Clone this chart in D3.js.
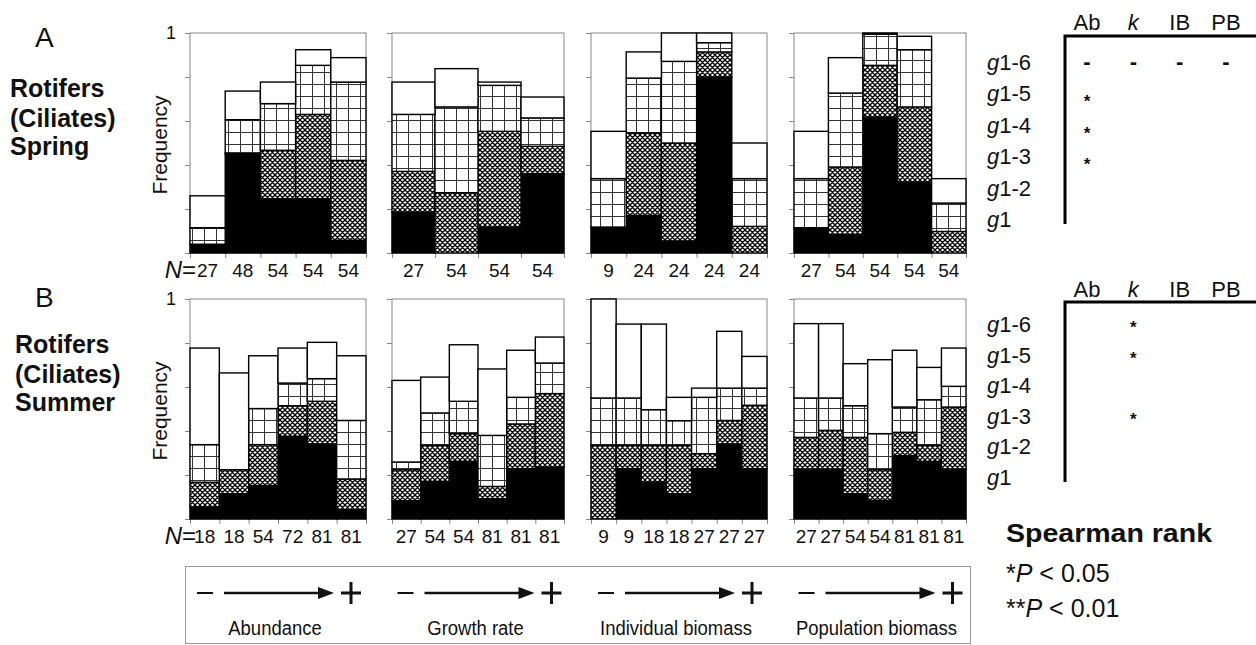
<!DOCTYPE html>
<html>
<head>
<meta charset="utf-8">
<script src="https://cdn.jsdelivr.net/npm/d3@7"></script>
<style>
  body { margin: 0; background: #fff; }
  text { font-family: "Liberation Sans", Arial, sans-serif; fill: #111; }
</style>
</head>
<body>
<script>
const width = 1256
const height = 645

// frequency of each class in a bar, bottom to top: black, cross-hatch, grid, open
const layerFill = ["#000", "url(#hatch)", "url(#grid)", "#fff"]

// A: spring
const springAbN = [27, 48, 54, 54, 54]
const springAb = [
  [0.040, 0.000, 0.075, 0.145],
  [0.448, 0.007, 0.151, 0.130],
  [0.247, 0.220, 0.212, 0.098],
  [0.247, 0.383, 0.223, 0.071],
  [0.058, 0.363, 0.356, 0.111],
]
const springKN = [27, 54, 54, 54]
const springK = [
  [0.186, 0.185, 0.259, 0.147],
  [0.000, 0.274, 0.390, 0.174],
  [0.118, 0.435, 0.209, 0.015],
  [0.361, 0.124, 0.129, 0.095],
]
const springIbN = [9, 24, 24, 24, 24]
const springIb = [
  [0.118, 0.000, 0.220, 0.215],
  [0.171, 0.374, 0.250, 0.119],
  [0.055, 0.445, 0.371, 0.129],
  [0.800, 0.114, 0.042, 0.044],
  [0.000, 0.121, 0.217, 0.162],
]
const springPbN = [27, 54, 54, 54, 54]
const springPb = [
  [0.115, 0.000, 0.223, 0.215],
  [0.083, 0.308, 0.336, 0.161],
  [0.618, 0.235, 0.142, 0.005],
  [0.323, 0.341, 0.260, 0.061],
  [0.000, 0.098, 0.129, 0.111],
]

// B: summer
const summerAbN = [18, 18, 54, 72, 81, 81]
const summerAb = [
  [0.055, 0.112, 0.171, 0.439],
  [0.115, 0.109, 0.000, 0.440],
  [0.152, 0.186, 0.164, 0.240],
  [0.376, 0.139, 0.103, 0.159],
  [0.341, 0.194, 0.103, 0.165],
  [0.042, 0.140, 0.266, 0.294],
]
const summerKN = [27, 54, 54, 81, 81, 81]
const summerK = [
  [0.083, 0.141, 0.035, 0.371],
  [0.171, 0.164, 0.147, 0.163],
  [0.262, 0.126, 0.147, 0.257],
  [0.092, 0.056, 0.232, 0.302],
  [0.229, 0.203, 0.121, 0.214],
  [0.236, 0.334, 0.139, 0.118],
]
const summerIbN = [9, 9, 18, 18, 27, 27, 27]
const summerIb = [
  [0.000, 0.335, 0.215, 0.450],
  [0.229, 0.106, 0.215, 0.336],
  [0.168, 0.167, 0.162, 0.389],
  [0.115, 0.220, 0.112, 0.106],
  [0.229, 0.068, 0.256, 0.042],
  [0.341, 0.107, 0.147, 0.258],
  [0.229, 0.288, 0.078, 0.144],
]
const summerPbN = [27, 27, 54, 54, 81, 81, 81]
const summerPb = [
  [0.227, 0.144, 0.179, 0.338],
  [0.227, 0.176, 0.147, 0.338],
  [0.115, 0.256, 0.144, 0.191],
  [0.085, 0.139, 0.164, 0.336],
  [0.288, 0.106, 0.115, 0.258],
  [0.262, 0.073, 0.207, 0.147],
  [0.227, 0.282, 0.094, 0.174],
]

const yTicks = [0, 0.2, 0.4, 0.6, 0.8, 1]

// Spearman rank table
const tableCols = ["Ab", "k", "IB", "PB"]
const tableRows = ["g1-6", "g1-5", "g1-4", "g1-3", "g1-2", "g1"]
const springMarks = [
  ["g1-6", "Ab", "-"], ["g1-6", "k", "-"], ["g1-6", "IB", "-"], ["g1-6", "PB", "-"],
  ["g1-5", "Ab", "*"], ["g1-4", "Ab", "*"], ["g1-3", "Ab", "*"],
]
const summerMarks = [["g1-6", "k", "*"], ["g1-5", "k", "*"], ["g1-3", "k", "*"]]

const legendLabels = ["Abundance", "Growth rate", "Individual biomass", "Population biomass"]

const rowTitles = [
  ["A", "Rotifers", "(Ciliates)", "Spring"],
  ["B", "Rotifers", "(Ciliates)", "Summer"],
]

const panels = [
  { row: 0, col: 0, n: springAbN, v: springAb },
  { row: 0, col: 1, n: springKN, v: springK },
  { row: 0, col: 2, n: springIbN, v: springIb },
  { row: 0, col: 3, n: springPbN, v: springPb },
  { row: 1, col: 0, n: summerAbN, v: summerAb },
  { row: 1, col: 1, n: summerKN, v: summerK },
  { row: 1, col: 2, n: summerIbN, v: summerIb },
  { row: 1, col: 3, n: summerPbN, v: summerPb },
]

// layout
const rowTop = [33, 299]
const panelH = 220
const colX = [190, 392, 591, 794]
const colW = [176, 172, 176, 172]

const svg = d3.select("body").append("svg")
  .attr("width", width)
  .attr("height", height)

const defs = svg.append("defs")
const hatch = defs.append("pattern")
  .attr("id", "hatch")
  .attr("patternUnits", "userSpaceOnUse")
  .attr("width", 5)
  .attr("height", 5)
hatch.append("rect").attr("width", 5).attr("height", 5).attr("fill", "#fff")
hatch.append("path")
  .attr("d", "M-1,-1L6,6M6,-1L-1,6M-1,4L1,6M4,-1L6,1M4,6L6,4M-1,1L1,-1")
  .attr("stroke", "#000")
  .attr("stroke-width", 1.3)

const grid = defs.append("pattern")
  .attr("id", "grid")
  .attr("patternUnits", "userSpaceOnUse")
  .attr("width", 12)
  .attr("height", 12)
grid.append("rect").attr("width", 12).attr("height", 12).attr("fill", "#fff")
grid.append("path")
  .attr("d", "M0,0.5H12M0.5,0V12")
  .attr("stroke", "#333")
  .attr("stroke-width", 1)

function greyAxis(g) {
  g.select(".domain").remove()
  g.selectAll(".tick line").attr("stroke", "#888")
}

panels.forEach((p) => {
  const x0 = colX[p.col]
  const w = colW[p.col]
  const top = rowTop[p.row]
  const bottom = top + panelH

  const y = d3.scaleLinear().domain([0, 1]).range([bottom, top])
  const x = d3.scaleBand().domain(d3.range(p.n.length)).range([x0, x0 + w])
  const xEdge = d3.scaleLinear().domain([0, p.n.length]).range([x0, x0 + w])

  const g = svg.append("g")

  g.append("rect")
    .attr("x", x0)
    .attr("y", top)
    .attr("width", w)
    .attr("height", panelH)
    .attr("fill", "none")
    .attr("stroke", "#888")
    .attr("stroke-width", 1)

  g.append("g")
    .attr("transform", `translate(${x0},0)`)
    .call(d3.axisLeft(y).tickValues(yTicks).tickSize(5).tickSizeOuter(0).tickFormat(""))
    .call(greyAxis)

  g.append("g")
    .attr("transform", `translate(0,${bottom})`)
    .call(d3.axisBottom(xEdge).tickValues(d3.range(p.n.length + 1)).tickSize(5).tickSizeOuter(0).tickFormat(""))
    .call(greyAxis)

  const series = d3.stack().keys([0, 1, 2, 3])(p.v)

  g.selectAll(".layer")
    .data(series)
    .enter()
    .append("g")
    .attr("class", "layer")
    .attr("fill", (d, i) => layerFill[i])
    .selectAll("rect")
    .data((d) => d.map((s, j) => ({ j, y0: s[0], y1: s[1] })).filter((s) => s.y1 - s.y0 > 0.0005))
    .enter()
    .append("rect")
    .attr("x", (d) => x(d.j))
    .attr("y", (d) => y(d.y1))
    .attr("width", x.bandwidth())
    .attr("height", (d) => y(d.y0) - y(d.y1))
    .attr("stroke", "#000")
    .attr("stroke-width", 1.4)

  g.selectAll(".nlab")
    .data(p.n)
    .enter()
    .append("text")
    .attr("class", "nlab")
    .attr("x", (d, j) => x(j) + x.bandwidth() / 2)
    .attr("y", bottom + 24)
    .attr("text-anchor", "middle")
    .attr("font-size", 19)
    .text((d) => d)

  if (p.col === 0) {
    g.append("text")
      .attr("x", x0 - 14)
      .attr("y", top + 6)
      .attr("text-anchor", "end")
      .attr("font-size", 18)
      .text("1")

    g.append("text")
      .attr("transform", `translate(${x0 - 23},${(top + bottom) / 2 + 2}) rotate(-90)`)
      .attr("text-anchor", "middle")
      .attr("font-size", 21)
      .text("Frequency")

    const nEq = g.append("text")
      .attr("x", x0 + 6)
      .attr("y", bottom + 25)
      .attr("text-anchor", "end")
      .attr("font-size", 24)
    nEq.append("tspan").attr("font-style", "italic").text("N")
    nEq.append("tspan").text("=")
  }
})

// row titles
rowTitles.forEach((t, r) => {
  const base = r === 0 ? 0 : 256
  svg.append("text")
    .attr("x", 35)
    .attr("y", 47 + base + (r === 0 ? 0 : 4))
    .attr("font-size", 28)
    .text(t[0])
  t.slice(1).forEach((s, i) => {
    svg.append("text")
      .attr("x", r === 0 ? 10 : 15)
      .attr("y", [97, 127, 155][i] + base)
      .attr("font-size", 25)
      .attr("font-weight", "bold")
      .attr("fill", "#222")
      .text(s)
  })
})

// Spearman tables
const colPos = d3.scalePoint().domain(tableCols).range([1087, 1226])

function drawTable(headY, lineY, rowRange, marks, markLift) {
  const rowPos = d3.scalePoint().domain(tableRows).range(rowRange)
  const t = svg.append("g")

  t.selectAll(".head")
    .data(tableCols)
    .enter()
    .append("text")
    .attr("x", (d) => colPos(d))
    .attr("y", headY)
    .attr("text-anchor", "middle")
    .attr("font-size", 22)
    .attr("font-style", (d) => (d === "k" ? "italic" : "normal"))
    .text((d) => d)

  t.append("path")
    .attr("d", `M1256,${lineY}H1065V${rowRange[1] - 3}`)
    .attr("fill", "none")
    .attr("stroke", "#000")
    .attr("stroke-width", 3)

  const rl = t.selectAll(".rowlab")
    .data(tableRows)
    .enter()
    .append("text")
    .attr("x", 987)
    .attr("y", (d) => rowPos(d))
    .attr("font-size", 22)
  rl.append("tspan").attr("font-style", "italic").text("g")
  rl.append("tspan").text((d) => d.slice(1))

  t.selectAll(".mark")
    .data(marks)
    .enter()
    .append("text")
    .attr("x", (d) => colPos(d[1]))
    .attr("y", (d) => rowPos(d[0]) + (d[2] === "*" ? markLift : -1))
    .attr("text-anchor", "middle")
    .attr("font-size", (d) => (d[2] === "*" ? 17 : 22))
    .attr("font-weight", "bold")
    .text((d) => d[2])
}

drawTable(30, 36, [70, 227], springMarks, 6)
drawTable(297, 302, [332, 485], summerMarks, 1)

// significance key
svg.append("text")
  .attr("x", 1006)
  .attr("y", 542)
  .attr("font-size", 25)
  .attr("font-weight", "bold")
  .attr("textLength", 206)
  .attr("lengthAdjust", "spacingAndGlyphs")
  .text("Spearman rank")

;[["*", "0.05", 582], ["**", "0.01", 617]].forEach(([s, p, yy]) => {
  const k = svg.append("text").attr("x", 1006).attr("y", yy).attr("font-size", 25).attr("fill", "#222")
  k.append("tspan").text(s)
  k.append("tspan").attr("font-style", "italic").text("P")
  k.append("tspan").text(" < " + p)
})

// legend box with gradient arrows
svg.append("rect")
  .attr("x", 185.5)
  .attr("y", 566.5)
  .attr("width", 785)
  .attr("height", 77)
  .attr("fill", "none")
  .attr("stroke", "#999")

const legend = svg.selectAll(".leg")
  .data(legendLabels)
  .enter()
  .append("g")
  .attr("class", "leg")
  .attr("transform", (d, i) => `translate(${197 + i * 200.5},593)`)

legend.append("line")
  .attr("x1", 0).attr("x2", 16).attr("y1", 0).attr("y2", 0)
  .attr("stroke", "#111").attr("stroke-width", 2)
legend.append("line")
  .attr("x1", 27).attr("x2", 124).attr("y1", 0).attr("y2", 0)
  .attr("stroke", "#111").attr("stroke-width", 2.4)
legend.append("path")
  .attr("d", "M121,-6L137,0L121,6Z")
  .attr("fill", "#111")
legend.append("path")
  .attr("d", "M144,0H164M154,-11V11")
  .attr("stroke", "#111").attr("stroke-width", 3)
legend.append("text")
  .attr("transform", "translate(78,42) scale(0.88,1)")
  .attr("text-anchor", "middle")
  .attr("font-size", 21)
  .text((d) => d)
</script>
</body>
</html>
